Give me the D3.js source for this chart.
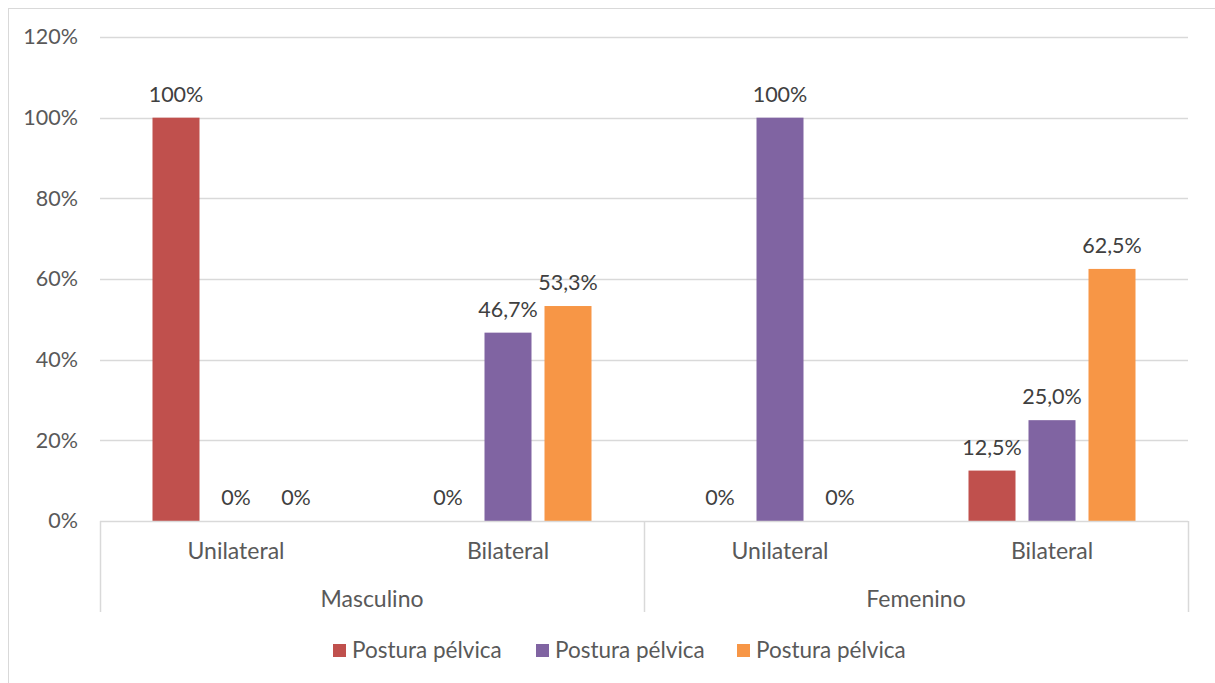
<!DOCTYPE html>
<html><head><meta charset="utf-8">
<script src="https://cdn.jsdelivr.net/npm/d3@7"></script>
<style>body{margin:0;background:#fff;}svg{display:block;font-family:Lato,"Open Sans",sans-serif;}</style>
</head><body><svg id="c" width="1215" height="683"></svg>
<script>
const groups = ["Masculino", "Femenino"];
const subcats = ["Unilateral", "Bilateral"];
const seriesNames = ["Postura pélvica", "Postura pélvica", "Postura pélvica"];
const seriesColors = ["#c0504d", "#8064a2", "#f79646"];
// values per category (Masc-Uni, Masc-Bi, Fem-Uni, Fem-Bi), in %
const s1 = [100, 0, 0, 12.5];
const s2 = [0, 46.7, 100, 25.0];
const s3 = [0, 53.3, 0, 62.5];
const labels1 = ["100%", "0%", "0%", "12,5%"];
const labels2 = ["0%", "46,7%", "100%", "25,0%"];
const labels3 = ["0%", "53,3%", "0%", "62,5%"];
const yTicks = [0, 20, 40, 60, 80, 100, 120];

const svg = d3.select("#c");
const M = {l:100, r:1188, t:37, b:521};
const FS = 21.5, FT = 23;
const cats = [];
groups.forEach(g => subcats.forEach(s => cats.push(g + "|" + s)));
const x = d3.scaleBand().domain(cats).range([M.l, M.r]).paddingInner(0).paddingOuter(0);
const y = d3.scaleLinear().domain([0, 120]).range([M.b, M.t]);
const series = [s1, s2, s3];
const slabels = [labels1, labels2, labels3];
const step = 60, bw = 47;

// outer border
svg.append("rect").attr("x", 8.5).attr("y", 8.5).attr("width", 1215).attr("height", 700)
  .attr("fill", "none").attr("stroke", "#d9d9d9").attr("stroke-width", 1);

// gridlines
svg.append("g").selectAll("line").data(yTicks.filter(d => d > 0)).join("line")
  .attr("x1", M.l).attr("x2", M.r).attr("y1", d => Math.round(y(d)) + 0.5).attr("y2", d => Math.round(y(d)) + 0.5)
  .attr("stroke", "#d9d9d9").attr("stroke-width", 1.5);

// y axis labels
const yAxis = d3.axisLeft(y).tickValues(yTicks).tickFormat(d => d + "%").tickSize(0).tickPadding(0);
const ya = svg.append("g").attr("transform", `translate(${M.l - 22},0)`).call(yAxis);
ya.select(".domain").remove();
ya.selectAll("text").attr("font-size", FS).attr("fill", "#595959").attr("font-family", "Lato, sans-serif");

// bars
series.forEach((s, i) => {
  svg.append("g").selectAll("rect").data(s).join("rect")
    .attr("x", (d, j) => x(cats[j]) + x.bandwidth() / 2 + (i - 1) * step - bw / 2)
    .attr("width", bw)
    .attr("y", d => y(d))
    .attr("height", d => y(0) - y(d))
    .attr("fill", seriesColors[i]);
  svg.append("g").selectAll("text").data(s).join("text")
    .attr("x", (d, j) => x(cats[j]) + x.bandwidth() / 2 + (i - 1) * step)
    .attr("y", d => y(d) - 16)
    .attr("text-anchor", "middle")
    .attr("font-size", FS).attr("fill", "#404040")
    .text((d, j) => slabels[i][j]);
});

// x axis
const ax = svg.append("g");
ax.append("line").attr("x1", M.l).attr("x2", M.r).attr("y1", M.b + 0.5).attr("y2", M.b + 0.5)
  .attr("stroke", "#d9d9d9").attr("stroke-width", 1.5);
const gx = d3.scaleBand().domain(groups).range([M.l, M.r]);
[M.l, M.l + gx.bandwidth(), M.r].forEach(xx => {
  ax.append("line").attr("x1", xx + 0.5).attr("x2", xx + 0.5).attr("y1", M.b).attr("y2", 612)
    .attr("stroke", "#d9d9d9").attr("stroke-width", 1.5);
});
ax.selectAll("text.sub").data(cats).join("text").attr("class", "sub")
  .attr("x", d => x(d) + x.bandwidth() / 2).attr("y", 559)
  .attr("text-anchor", "middle").attr("font-size", FT).attr("fill", "#595959")
  .text(d => d.split("|")[1]);
ax.selectAll("text.grp").data(groups).join("text").attr("class", "grp")
  .attr("x", d => gx(d) + gx.bandwidth() / 2).attr("y", 607)
  .attr("text-anchor", "middle").attr("font-size", FT).attr("fill", "#595959")
  .text(d => d);

// legend
const legX = [333, 536, 737];
const lg = svg.append("g");
seriesNames.forEach((n, i) => {
  lg.append("rect").attr("x", legX[i]).attr("y", 644).attr("width", 13).attr("height", 13).attr("fill", seriesColors[i]);
  lg.append("text").attr("x", legX[i] + 19).attr("y", 658).attr("font-size", 22.5).attr("fill", "#595959").text(n);
});
</script></body></html>
